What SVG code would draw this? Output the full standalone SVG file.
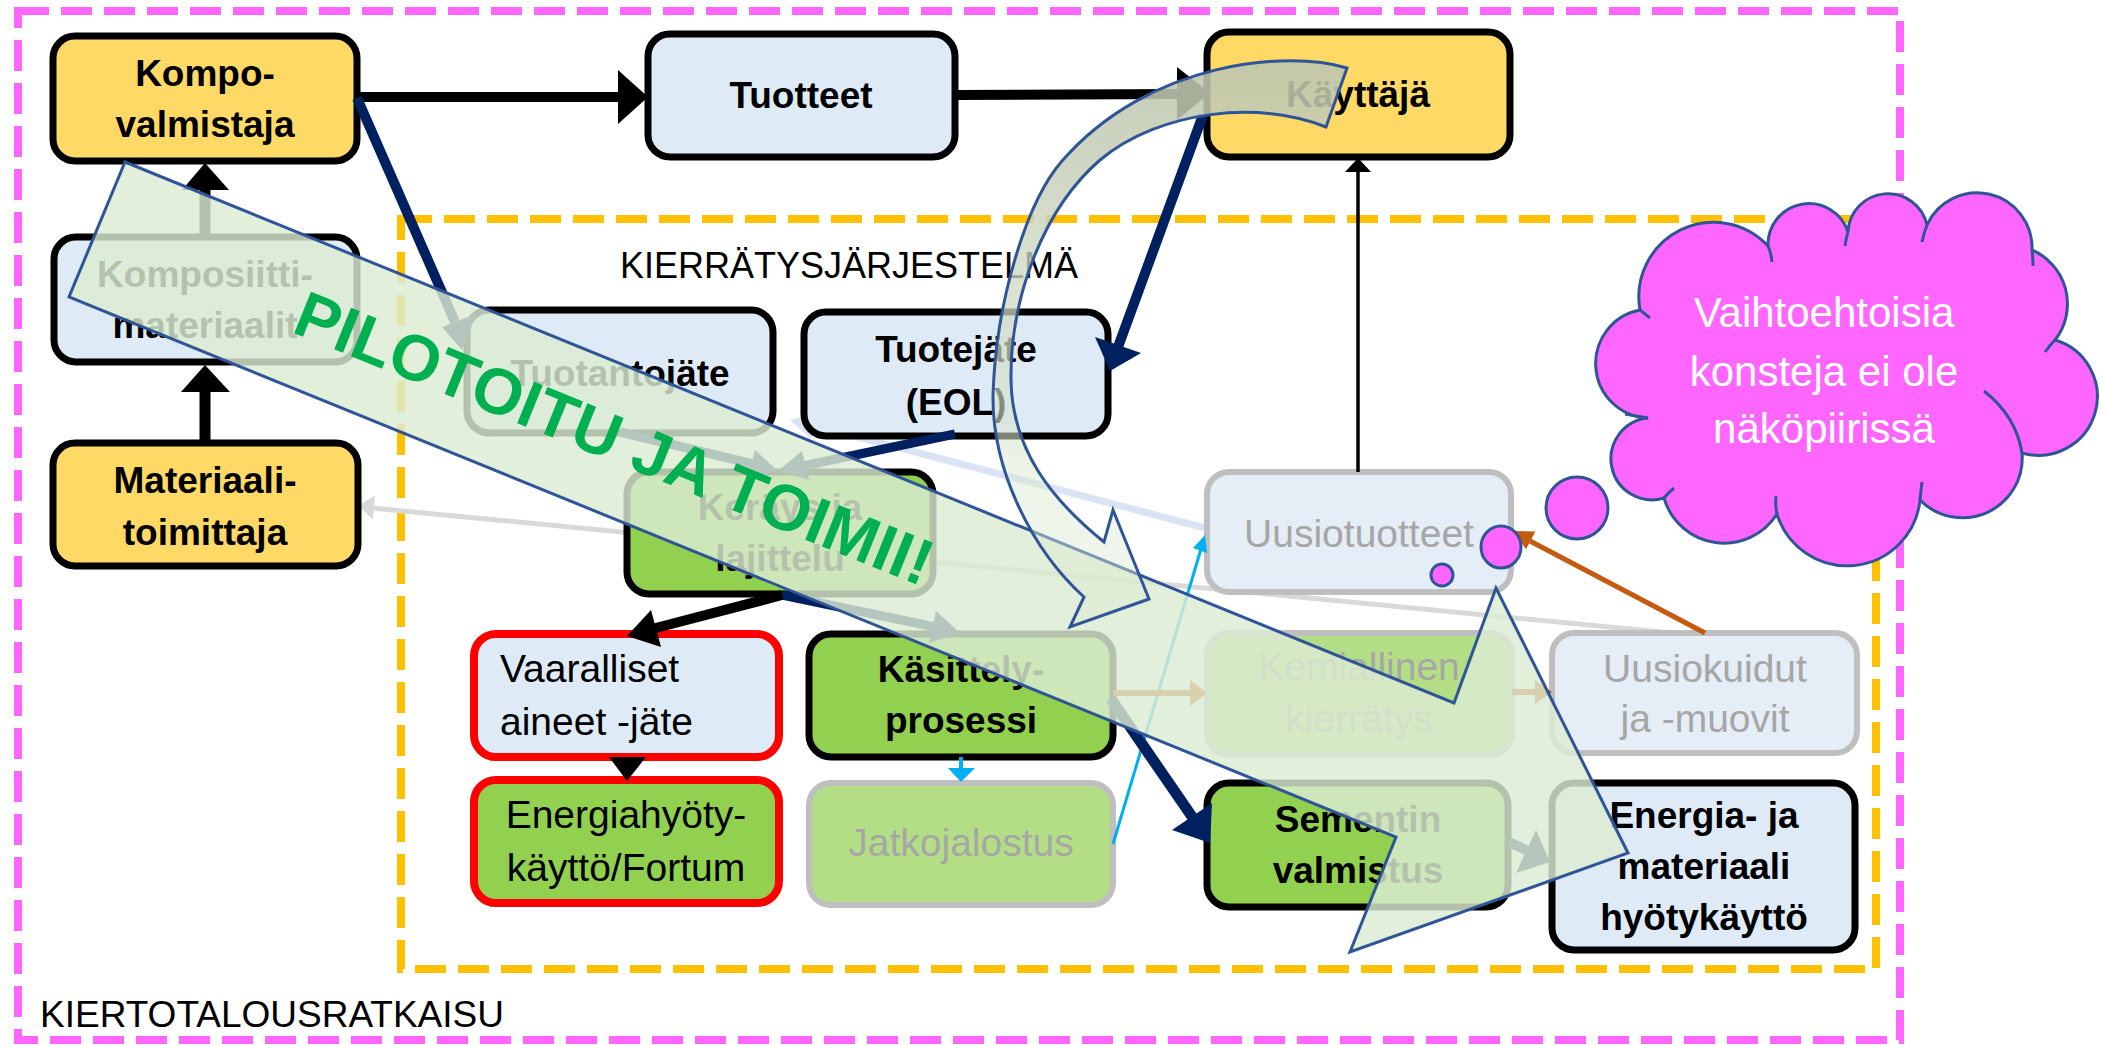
<svg xmlns="http://www.w3.org/2000/svg" width="2103" height="1045" viewBox="0 0 2103 1045">
<defs>
<style>
.frame{fill:none;stroke-width:8;stroke-dasharray:31 12}
.yel{fill:#FFD966;stroke:#000;stroke-width:7}
.blu{fill:#DEEBF7;stroke:#000;stroke-width:7}
.grn{fill:#92D050;stroke:#000;stroke-width:7}
.rblu{fill:#DEEBF7;stroke:#FF0000;stroke-width:8}
.rgrn{fill:#92D050;stroke:#FF0000;stroke-width:8}
.fgrn{fill:#B4DE86;stroke:#BFBFBF;stroke-width:6}
.fblu{fill:#E5EDF7;stroke:#BFBFBF;stroke-width:6}
text{font-family:"Liberation Sans",Arial,sans-serif}
.tb{font-weight:bold;font-size:37px;text-anchor:middle;fill:#000}
.tr{font-size:39px;fill:#000}
.trc{font-size:39px;fill:#000;text-anchor:middle}
.tg{font-size:39px;fill:#A6A6A6;text-anchor:middle}
.lbl{font-size:36px;fill:#000}
.blk{stroke:#000;fill:none}
.nav{stroke:#002060;fill:none}
.hk{fill:#000}
.hn{fill:#002060}
.outl{stroke:#2F5597;stroke-width:3}
.cl{fill:none;stroke:#2F5597;stroke-width:3}
</style>
<linearGradient id="curveFill" gradientUnits="userSpaceOnUse" x1="0" y1="50" x2="0" y2="630">
<stop offset="0" stop-color="#BCC5AE" stop-opacity="0.9"/>
<stop offset="0.5" stop-color="#D3DDC6" stop-opacity="0.72"/>
<stop offset="0.75" stop-color="#DCEAD2" stop-opacity="0.5"/>
<stop offset="1" stop-color="#DCEAD2" stop-opacity="0.4"/>
</linearGradient>
</defs>
<rect width="2103" height="1045" fill="#FFFFFF"/>

<g id="frames">
<rect class="frame" x="18" y="11" width="1882" height="1029" stroke="#FF66FF"/>
<rect class="frame" x="401" y="219" width="1475" height="750" stroke="#FFC000"/>
<text class="lbl" x="620" y="278">KIERRÄTYSJÄRJESTELMÄ</text>
<text class="lbl" x="40" y="1027" style="font-size:37px">KIERTOTALOUSRATKAISU</text>
</g>

<g id="back-connectors">
<line x1="1672" y1="633" x2="372" y2="508" stroke="#D9D9D9" stroke-width="5"/>
<polygon points="358,506 375,495.6 372.9,519.4" fill="#D9D9D9"/>
<line x1="1205" y1="528" x2="812" y2="425" stroke="#DAE3F3" stroke-width="7"/>
<polygon points="790,420 817,413 811,439" fill="#DAE3F3"/>
</g>

<g id="n-kompo"><rect class="yel" x="53" y="36" width="304" height="125" rx="22"/><text class="tb" x="205" y="86">Kompo-</text><text class="tb" x="205" y="137">valmistaja</text></g>
<g id="n-tuotteet"><rect class="blu" x="648" y="34" width="307" height="123" rx="22"/><text class="tb" x="801" y="108">Tuotteet</text></g>
<g id="n-kayttaja"><rect class="yel" x="1207" y="32" width="303" height="125" rx="22"/><text class="tb" x="1358" y="107">Käyttäjä</text></g>
<g id="n-komposiitti"><rect class="blu" x="54" y="237" width="303" height="125" rx="22"/><text class="tb" x="205" y="287">Komposiitti-</text><text class="tb" x="205" y="338">materiaalit</text></g>
<g id="n-materiaali"><rect class="yel" x="53" y="443" width="305" height="123" rx="22"/><text class="tb" x="205" y="493">Materiaali-</text><text class="tb" x="205" y="545">toimittaja</text></g>
<g id="n-tuotantojate"><rect class="blu" x="467" y="310" width="306" height="123" rx="22"/><text class="tb" x="620" y="386">Tuotantojäte</text></g>
<g id="n-tuotejate"><rect class="blu" x="804" y="312" width="304" height="124" rx="22"/><text class="tb" x="956" y="362">Tuotejäte</text><text class="tb" x="956" y="415">(EOL)</text></g>
<g id="n-kerays"><rect class="grn" x="627" y="472" width="306" height="122" rx="22"/><text class="tb" x="780" y="520">Keräys ja</text><text class="tb" x="780" y="571">lajittelu</text></g>
<g id="n-vaaralliset"><rect class="rblu" x="474" y="634" width="305" height="123" rx="22"/><text class="tr" x="500" y="682">Vaaralliset</text><text class="tr" x="500" y="735">aineet -jäte</text></g>
<g id="n-energiahyoty"><rect class="rgrn" x="474" y="780" width="305" height="123" rx="22"/><text class="trc" x="626" y="828">Energiahyöty-</text><text class="trc" x="626" y="881">käyttö/Fortum</text></g>
<g id="n-kasittely"><rect class="grn" x="809" y="634" width="304" height="123" rx="22"/><text class="tb" x="961" y="682">Käsittely-</text><text class="tb" x="961" y="733">prosessi</text></g>
<g id="n-jatkojalostus"><rect class="fgrn" x="809" y="783" width="304" height="122" rx="22"/><text class="tg" x="961" y="856">Jatkojalostus</text></g>
<g id="n-kemiallinen"><rect class="fgrn" x="1207" y="633" width="305" height="122" rx="22"/><text class="tg" x="1359" y="680">Kemiallinen</text><text class="tg" x="1359" y="732">kierrätys</text></g>
<g id="n-uusiotuotteet"><rect class="fblu" x="1207" y="472" width="304" height="120" rx="22"/><text class="tg" x="1359" y="547">Uusiotuotteet</text></g>
<g id="n-uusiokuidut"><rect class="fblu" x="1552" y="633" width="305" height="120" rx="22"/><text class="tg" x="1705" y="682">Uusiokuidut</text><text class="tg" x="1705" y="732">ja -muovit</text></g>
<g id="n-sementin"><rect class="grn" x="1207" y="783" width="301" height="124" rx="22"/><text class="tb" x="1358" y="832">Sementin</text><text class="tb" x="1358" y="883">valmistus</text></g>
<g id="n-energia"><rect class="blu" x="1552" y="783" width="303" height="167" rx="22"/><text class="tb" x="1704" y="828">Energia- ja</text><text class="tb" x="1704" y="879">materiaali</text><text class="tb" x="1704" y="930">hyötykäyttö</text></g>

<g id="connectors">
<line class="blk" x1="357" y1="97" x2="620" y2="97" stroke-width="10"/>
<polygon class="hk" points="618,70 648,97 618,124"/>
<line class="blk" x1="955" y1="95" x2="1180" y2="94" stroke-width="10"/>
<polygon class="hk" points="1177,67 1210,93 1177,120"/>
<line class="blk" x1="205" y1="237" x2="205" y2="188" stroke-width="11"/>
<polygon class="hk" points="182,190 205,163 229,190"/>
<line class="blk" x1="205" y1="443" x2="205" y2="390" stroke-width="11"/>
<polygon class="hk" points="181,392 205,365 230,392"/>
<line class="nav" x1="357" y1="98" x2="455" y2="322" stroke-width="10"/>
<polygon class="hn" points="462,350 442,327 476,314"/>
<line class="nav" x1="1203" y1="115" x2="1118" y2="347" stroke-width="10"/>
<polygon class="hn" points="1095,337 1141,353 1110,371"/>
<line class="nav" x1="955" y1="434" x2="803" y2="466" stroke-width="9"/>
<polygon class="hn" points="778,471 809,480 802,451"/>
<line class="nav" x1="620" y1="432" x2="753" y2="464" stroke-width="9"/>
<polygon class="hn" points="778,471 747,479 755,450"/>
<line class="nav" x1="782" y1="595" x2="935" y2="627" stroke-width="9"/>
<polygon class="hn" points="960,633 929,643 936,611"/>
<line class="blk" x1="782" y1="595" x2="652" y2="629" stroke-width="10"/>
<polygon class="hk" points="627,636 661,647 651,610"/>
<polygon class="hk" points="609,757 646,757 627,781"/>
<line x1="961" y1="757" x2="961" y2="770" stroke="#00B0F0" stroke-width="4"/>
<polygon points="948,768 975,768 961,782" fill="#00B0F0"/>
<line x1="1113" y1="844" x2="1201" y2="549" stroke="#00B0F0" stroke-width="3"/>
<polygon points="1205,535 1207,553 1193,548" fill="#00B0F0"/>
<line x1="1113" y1="693" x2="1192" y2="693" stroke="#C55A11" stroke-width="6"/>
<polygon points="1190,680 1207,693 1190,706" fill="#C55A11"/>
<line x1="1512" y1="692" x2="1537" y2="692" stroke="#C55A11" stroke-width="6"/>
<polygon points="1535,680 1552,692 1535,704" fill="#C55A11"/>
<line x1="1705" y1="633" x2="1530" y2="541" stroke="#C55A11" stroke-width="5"/>
<polygon points="1513,531 1535.4,531.6 1526,549.2" fill="#C55A11"/>
<line class="blk" x1="1358" y1="472" x2="1358" y2="170" stroke-width="3.5"/>
<polygon class="hk" points="1345,172 1358,158 1371,172"/>
<line class="nav" x1="1111" y1="699" x2="1193" y2="818" stroke-width="11"/>
<polygon class="hn" points="1212,803 1172,830 1210,843"/>
<line class="nav" x1="1509" y1="842" x2="1528" y2="851" stroke-width="10"/>
<polygon class="hn" points="1536,830 1516,873 1550,862"/>
</g>

<g id="banner">
<polygon class="outl" points="125,162 1454,703 1496,588 1628,853 1350,952 1396,837 69,297" fill="rgb(220,235,210)" fill-opacity="0.82"/>
<text x="606" y="459" transform="rotate(22 606 459)" text-anchor="middle" font-weight="bold" font-size="65" fill="#00B050">PILOTOITU JA TOIMII!</text>
</g>

<g id="curved-arrow">
<path class="outl" fill="url(#curveFill)" d="M 1347,68 C 1290,50 1150,60 1062,161 C 1027,201 996,300 993,395 C 992,470 1032,550 1084,597 L 1070,627 L 1149,599 L 1113,510 L 1104,542 C 1052,500 1012,450 1011,380 C 1010,300 1042,210 1100,160 C 1160,110 1260,100 1326,127 Z"/>
</g>

<g id="cloud">
<path fill="#FF66FF" stroke="#2F5597" stroke-width="3" d="M 1640,310 A 74.6 74.6 0 0 1 1768,246 A 41 41 0 0 1 1848,232 A 40 40 0 0 1 1927,225 A 55 55 0 0 1 2032,250 A 58.6 58.6 0 0 1 2055,340 A 57.6 57.6 0 0 1 2022,453 A 59.7 59.7 0 0 1 1920,500 A 73.3 73.3 0 0 1 1777,514 A 62.6 62.6 0 0 1 1664,498 A 41 41 0 1 1 1648,418 A 54.5 54.5 0 0 1 1640,310 Z"/>
<path class="cl" d="M 1768,246 Q 1771,252 1772,262 M 1848,232 Q 1846,238 1845,246 M 1927,225 Q 1924,232 1922,242 M 2032,250 Q 2033,258 2033,266 M 2055,340 Q 2050,345 2045,352 M 1984,391 Q 2016,416 2022,453 M 1920,500 Q 1921,490 1922,482 M 1777,514 Q 1775,505 1776,496 M 1664,498 Q 1668,493 1674,488 M 1648,418 Q 1636,416 1625,414 M 1640,310 Q 1645,314 1650,318"/>
<text x="1824" y="327" text-anchor="middle" font-size="42" fill="#FFFFFF">Vaihtoehtoisia</text>
<text x="1824" y="386" text-anchor="middle" font-size="42" fill="#FFFFFF">konsteja ei ole</text>
<text x="1824" y="443" text-anchor="middle" font-size="42" fill="#FFFFFF">näköpiirissä</text>
<circle cx="1577" cy="508" r="31" fill="#FF66FF" stroke="#2F5597" stroke-width="3"/>
<ellipse cx="1501" cy="547" rx="20" ry="21" fill="#FF66FF" stroke="#2F5597" stroke-width="3"/>
<circle cx="1442" cy="575" r="11" fill="#FF66FF" stroke="#2F5597" stroke-width="3"/>
</g>
</svg>
